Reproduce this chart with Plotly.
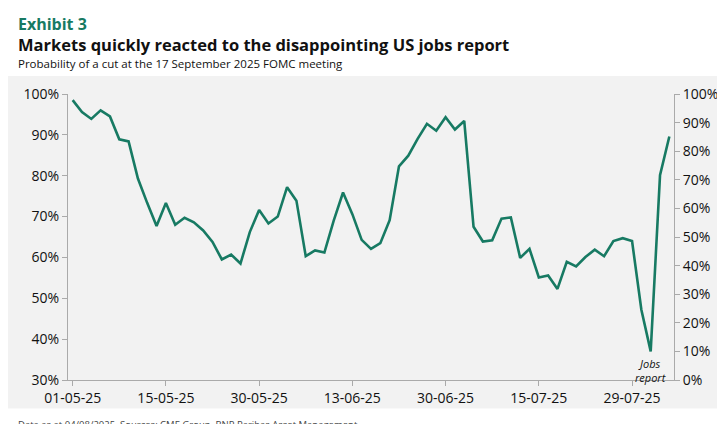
import pandas as pd
import plotly.graph_objects as go

# business days 1 May - 4 Aug 2025, US holidays removed
holidays = ["2025-05-26", "2025-06-19", "2025-07-04"]
days = [d for d in pd.bdate_range("2025-05-01", "2025-08-04") if d.strftime("%Y-%m-%d") not in holidays]
dates = [d.strftime("%d-%m-%y") for d in days]

prob_cut = [98.5, 95.6, 93.9, 96.0, 94.5, 88.9, 88.4, 79.3, 73.3, 67.7,
            73.3, 68.0, 69.7, 68.6, 66.6, 63.8, 59.5, 60.7, 58.5, 66.2,
            71.6, 68.3, 70.0, 77.2, 73.9, 60.3, 61.7, 61.2, 69.0, 75.9,
            70.6, 64.3, 62.1, 63.5, 69.1, 82.3, 84.9, 89.0, 92.7, 91.0,
            94.3, 91.3, 93.4, 67.5, 63.9, 64.2, 69.5, 69.8, 59.9, 62.1,
            55.1, 55.6, 52.3, 58.9, 57.8, 60.1, 61.9, 60.3, 64.0, 64.7,
            64.0, 47.2, 37.0, 80.1, 89.6]

tick_dates = ["01-05-25", "15-05-25", "30-05-25", "13-06-25", "30-06-25", "15-07-25", "29-07-25"]
left_ticks = list(range(30, 101, 10))
right_ticks = list(range(0, 101, 10))

green = "#177a63"
font = "Open Sans"

fig = go.Figure()
fig.add_trace(go.Scatter(x=dates, y=prob_cut, mode="lines",
                         line=dict(color=green, width=2.6), hoverinfo="skip"))
fig.add_trace(go.Scatter(x=dates[:1], y=[0], yaxis="y2", mode="markers",
                         marker=dict(opacity=0), hoverinfo="skip"))

# white header and footer bands over the grey panel
fig.add_shape(type="rect", xref="paper", yref="paper", x0=-0.2, x1=1.2, y0=1.063, y1=1.4,
              fillcolor="white", line_width=0, layer="below")
fig.add_shape(type="rect", xref="paper", yref="paper", x0=-0.2, x1=1.2, y0=-0.3, y1=-0.1,
              fillcolor="white", line_width=0, layer="below")

fig.add_annotation(x=dates[62], y=36.3, text="<i>Jobs<br>report</i>", showarrow=False,
                   yanchor="top", font=dict(size=11, color="#111", family=font))

fig.add_annotation(xref="paper", yref="paper", x=-0.085, y=1.29, text="<b>Exhibit 3</b>",
                   showarrow=False, xanchor="left", yanchor="top",
                   font=dict(size=16, color=green, family=font))
fig.add_annotation(xref="paper", yref="paper", x=-0.085, y=1.22,
                   text="<b>Markets quickly reacted to the disappointing US jobs report</b>",
                   showarrow=False, xanchor="left", yanchor="top",
                   font=dict(size=16.5, color="#111", family=font))
fig.add_annotation(xref="paper", yref="paper", x=-0.085, y=1.14,
                   text="Probability of a cut at the 17 September 2025 FOMC meeting",
                   showarrow=False, xanchor="left", yanchor="top",
                   font=dict(size=11.5, color="#111", family=font))
fig.add_annotation(xref="paper", yref="paper", x=-0.085, y=-0.125,
                   text="Data as at 04/08/2025. Sources: CME Group, BNP Paribas Asset Management.",
                   showarrow=False, xanchor="left", yanchor="top",
                   font=dict(size=9.5, color="#444", family=font))

fig.update_layout(
    width=725, height=424,
    margin=dict(l=60, r=59, t=86, b=52),
    paper_bgcolor="#f2f2f2", plot_bgcolor="rgba(0,0,0,0)",
    showlegend=False,
    font=dict(family=font, size=14, color="#111"),
    xaxis=dict(type="category", tickvals=tick_dates, ticktext=tick_dates,
               range=[-0.5, len(dates) - 0.5], showgrid=False, automargin=False,
               showline=True, linecolor="#aaa", ticks="outside", ticklen=5, tickcolor="#aaa"),
    yaxis=dict(range=[30, 100], tickvals=left_ticks, ticktext=[f"{v}%" for v in left_ticks],
               showgrid=False, showline=True, linecolor="#aaa", automargin=False,
               ticks="outside", ticklen=5, tickcolor="#aaa", zeroline=False),
    yaxis2=dict(range=[0, 100], overlaying="y", side="right", tickvals=right_ticks,
                ticktext=[f"{v}%" for v in right_ticks], showgrid=False, automargin=False,
                showline=True, linecolor="#aaa", ticks="outside", ticklen=5,
                tickcolor="#aaa", zeroline=False),
)

fig.write_html("out.html")
